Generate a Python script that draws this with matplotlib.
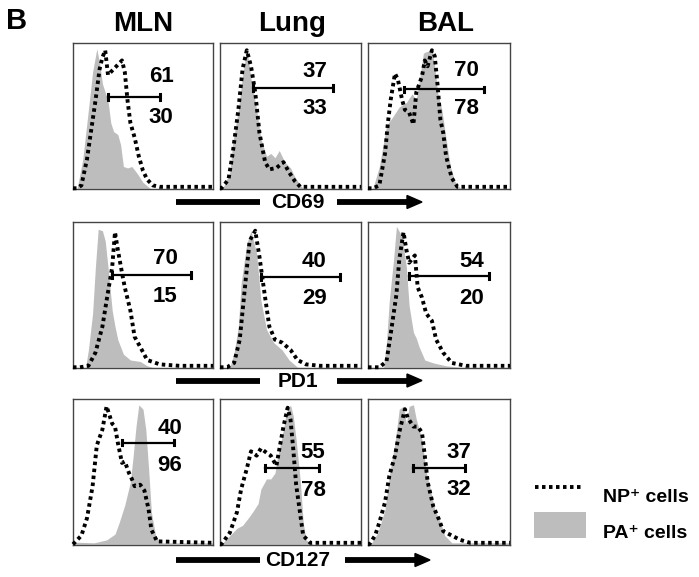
import matplotlib
matplotlib.use("Agg")
import matplotlib.pyplot as plt
from matplotlib.patches import Rectangle
from matplotlib.lines import Line2D

plt.rcParams['font.family'] = ['Liberation Sans', 'DejaVu Sans']
plt.rcParams['font.weight'] = 'bold'

W, H = 699, 577
GRAY = '#bdbdbd'

# ---------------- data (x: fraction of decade range, y: normalised count) -------------
columns = ['MLN', 'Lung', 'BAL']
markers = ['CD69', 'PD1', 'CD127']

# Row 1: CD69
mln_cd69_pa_x = [0, 0.03, 0.07, 0.11, 0.14, 0.17, 0.19, 0.21, 0.25, 0.27, 0.29, 0.32, 0.34, 0.36, 0.39, 0.42, 0.46, 0.50, 0.55, 1.0]
mln_cd69_pa_y = [0, 0, 0.20, 0.54, 0.80, 0.96, 0.86, 0.72, 0.60, 0.45, 0.39, 0.37, 0.30, 0.15, 0.14, 0.15, 0.10, 0.04, 0, 0]
mln_cd69_np_x = [0, 0.03, 0.06, 0.10, 0.13, 0.16, 0.19, 0.21, 0.23, 0.25, 0.27, 0.30, 0.33, 0.35, 0.37, 0.39, 0.41, 0.44, 0.47, 0.50, 0.53, 0.57, 0.62, 1.0]
mln_cd69_np_y = [0, 0, 0.02, 0.20, 0.40, 0.60, 0.82, 0.90, 0.95, 0.78, 0.80, 0.83, 0.86, 0.88, 0.80, 0.60, 0.45, 0.35, 0.22, 0.12, 0.06, 0.02, 0.01, 0.01]
lung_cd69_pa_x = [0, 0.02, 0.07, 0.09, 0.13, 0.16, 0.19, 0.22, 0.26, 0.29, 0.33, 0.36, 0.39, 0.42, 0.46, 0.50, 0.53, 0.57, 0.59, 1.0]
lung_cd69_pa_y = [0, 0, 0.11, 0.31, 0.54, 0.77, 0.96, 0.75, 0.54, 0.34, 0.22, 0.24, 0.21, 0.26, 0.18, 0.14, 0.08, 0.02, 0, 0]
lung_cd69_np_x = [0, 0.01, 0.06, 0.09, 0.13, 0.16, 0.19, 0.22, 0.25, 0.28, 0.32, 0.35, 0.40, 0.45, 0.49, 0.53, 0.57, 1.0]
lung_cd69_np_y = [0, 0, 0.06, 0.24, 0.54, 0.82, 0.95, 0.84, 0.66, 0.38, 0.18, 0.13, 0.14, 0.18, 0.11, 0.05, 0.01, 0.01]
bal_cd69_pa_x = [0, 0.035, 0.08, 0.13, 0.18, 0.22, 0.27, 0.31, 0.34, 0.36, 0.39, 0.41, 0.45, 0.47, 0.49, 0.52, 0.55, 0.58, 0.61, 0.65, 1.0]
bal_cd69_pa_y = [0, 0, 0.15, 0.43, 0.50, 0.56, 0.59, 0.65, 0.61, 0.73, 0.93, 0.94, 0.95, 0.84, 0.66, 0.54, 0.34, 0.15, 0.05, 0, 0]
bal_cd69_np_x = [0, 0.035, 0.08, 0.12, 0.14, 0.16, 0.19, 0.21, 0.24, 0.26, 0.29, 0.32, 0.34, 0.38, 0.40, 0.42, 0.45, 0.47, 0.49, 0.51, 0.53, 0.55, 0.59, 0.63, 1.0]
bal_cd69_np_y = [0, 0, 0.02, 0.24, 0.45, 0.61, 0.79, 0.75, 0.61, 0.54, 0.52, 0.44, 0.66, 0.77, 0.88, 0.84, 0.95, 0.91, 0.71, 0.47, 0.38, 0.22, 0.07, 0.01, 0.01]

# Row 2: PD1
mln_pd1_pa_x = [0, 0.09, 0.11, 0.14, 0.16, 0.18, 0.21, 0.23, 0.25, 0.28, 0.30, 0.32, 0.36, 0.41, 0.48, 0.53, 0.57, 1.0]
mln_pd1_pa_y = [0, 0, 0.12, 0.37, 0.69, 0.95, 0.94, 0.87, 0.69, 0.39, 0.28, 0.19, 0.09, 0.05, 0.04, 0.01, 0, 0]
mln_pd1_np_x = [0, 0.05, 0.11, 0.16, 0.21, 0.24, 0.28, 0.30, 0.32, 0.35, 0.37, 0.41, 0.44, 0.48, 0.53, 0.62, 0.76, 1.0]
mln_pd1_np_y = [0, 0, 0.01, 0.10, 0.28, 0.46, 0.69, 0.93, 0.81, 0.65, 0.55, 0.39, 0.21, 0.14, 0.05, 0.02, 0.01, 0.01]
lung_pd1_pa_x = [0, 0.07, 0.10, 0.13, 0.15, 0.19, 0.22, 0.26, 0.29, 0.33, 0.38, 0.44, 0.49, 0.55, 1.0]
lung_pd1_pa_y = [0, 0, 0.10, 0.28, 0.58, 0.85, 0.94, 0.78, 0.46, 0.26, 0.17, 0.12, 0.05, 0, 0]
lung_pd1_np_x = [0, 0.05, 0.10, 0.14, 0.18, 0.21, 0.25, 0.28, 0.32, 0.35, 0.39, 0.44, 0.50, 0.55, 0.61, 0.71, 1.0]
lung_pd1_np_y = [0, 0, 0.03, 0.19, 0.58, 0.87, 0.94, 0.76, 0.48, 0.28, 0.19, 0.17, 0.12, 0.05, 0.02, 0.01, 0.01]
bal_pd1_pa_x = [0, 0.11, 0.13, 0.15, 0.18, 0.20, 0.24, 0.27, 0.29, 0.32, 0.34, 0.36, 0.40, 0.46, 0.55, 0.65, 1.0]
bal_pd1_pa_y = [0, 0, 0.17, 0.46, 0.74, 0.97, 0.90, 0.69, 0.42, 0.24, 0.20, 0.14, 0.05, 0.03, 0.01, 0, 0]
bal_pd1_np_x = [0, 0.08, 0.13, 0.16, 0.20, 0.22, 0.25, 0.27, 0.29, 0.33, 0.35, 0.38, 0.41, 0.45, 0.48, 0.53, 0.59, 0.69, 1.0]
bal_pd1_np_y = [0, 0, 0.04, 0.23, 0.50, 0.74, 0.93, 0.81, 0.72, 0.77, 0.55, 0.48, 0.37, 0.32, 0.19, 0.10, 0.03, 0.01, 0.01]

# Row 3: CD127
mln_cd127_pa_x = [0, 0.15, 0.24, 0.30, 0.33, 0.37, 0.41, 0.43, 0.45, 0.47, 0.50, 0.52, 0.54, 0.56, 0.59, 0.62, 1.0]
mln_cd127_pa_y = [0.015, 0.01, 0.03, 0.07, 0.15, 0.27, 0.43, 0.61, 0.81, 0.96, 0.93, 0.79, 0.52, 0.22, 0.06, 0.01, 0.01]
mln_cd127_np_x = [0, 0.06, 0.10, 0.14, 0.17, 0.21, 0.24, 0.28, 0.30, 0.32, 0.35, 0.37, 0.40, 0.42, 0.44, 0.48, 0.51, 0.54, 0.56, 0.60, 1.0]
mln_cd127_np_y = [0, 0.06, 0.18, 0.40, 0.68, 0.79, 0.95, 0.83, 0.81, 0.70, 0.56, 0.57, 0.49, 0.45, 0.40, 0.41, 0.37, 0.24, 0.10, 0.02, 0.01]
lung_cd127_pa_x = [0, 0.01, 0.07, 0.12, 0.16, 0.20, 0.23, 0.27, 0.29, 0.33, 0.36, 0.39, 0.41, 0.44, 0.47, 0.50, 0.52, 0.54, 0.57, 0.59, 0.61, 0.66, 1.0]
lung_cd127_pa_y = [0, 0, 0.06, 0.11, 0.13, 0.18, 0.22, 0.28, 0.38, 0.45, 0.45, 0.49, 0.61, 0.74, 0.90, 0.96, 0.88, 0.72, 0.43, 0.15, 0.03, 0, 0]
lung_cd127_np_x = [0, 0.01, 0.07, 0.12, 0.15, 0.19, 0.22, 0.26, 0.29, 0.33, 0.36, 0.40, 0.42, 0.45, 0.48, 0.50, 0.52, 0.54, 0.57, 0.59, 0.64, 1.0]
lung_cd127_np_y = [0, 0, 0.08, 0.22, 0.38, 0.52, 0.64, 0.61, 0.66, 0.63, 0.61, 0.54, 0.65, 0.81, 0.94, 0.86, 0.65, 0.41, 0.20, 0.06, 0.01, 0.01]
bal_cd127_pa_x = [0, 0.02, 0.07, 0.12, 0.15, 0.19, 0.22, 0.25, 0.27, 0.29, 0.32, 0.34, 0.38, 0.41, 0.45, 0.47, 0.51, 0.54, 0.59, 1.0]
bal_cd127_pa_y = [0, 0, 0.08, 0.24, 0.47, 0.70, 0.93, 0.95, 0.83, 0.95, 0.96, 0.86, 0.72, 0.50, 0.33, 0.24, 0.15, 0.06, 0.01, 0.01]
bal_cd127_np_x = [0, 0.01, 0.05, 0.08, 0.12, 0.15, 0.19, 0.22, 0.26, 0.28, 0.32, 0.35, 0.38, 0.40, 0.42, 0.46, 0.50, 0.53, 0.59, 0.65, 0.72, 1.0]
bal_cd127_np_y = [0, 0, 0.06, 0.15, 0.29, 0.47, 0.61, 0.77, 0.93, 0.87, 0.81, 0.81, 0.77, 0.61, 0.43, 0.26, 0.17, 0.09, 0.06, 0.03, 0.01, 0.01]

# gates: (x start, x end, y level), labels (upper, lower)
gate_x0 = [[0.25, 0.235, 0.25], [0.28, 0.29, 0.29], [0.35, 0.32, 0.32]]
gate_x1 = [[0.62, 0.80, 0.82], [0.84, 0.85, 0.85], [0.72, 0.70, 0.685]]
gate_y = [[0.63, 0.69, 0.68], [0.635, 0.62, 0.63], [0.70, 0.525, 0.525]]
label_top = [['61', '37', '70'], ['70', '40', '54'], ['40', '55', '37']]
label_bot = [['30', '33', '78'], ['15', '29', '20'], ['96', '78', '32']]
label_x = [[0.63, 0.67, 0.69], [0.66, 0.67, 0.73], [0.69, 0.66, 0.64]]
label_top_y = [[0.77, 0.805, 0.81], [0.75, 0.73, 0.73], [0.80, 0.63, 0.63]]
label_bot_y = [[0.485, 0.55, 0.55], [0.49, 0.475, 0.475], [0.545, 0.37, 0.38]]

pa_data = [[(mln_cd69_pa_x, mln_cd69_pa_y), (lung_cd69_pa_x, lung_cd69_pa_y), (bal_cd69_pa_x, bal_cd69_pa_y)],
           [(mln_pd1_pa_x, mln_pd1_pa_y), (lung_pd1_pa_x, lung_pd1_pa_y), (bal_pd1_pa_x, bal_pd1_pa_y)],
           [(mln_cd127_pa_x, mln_cd127_pa_y), (lung_cd127_pa_x, lung_cd127_pa_y), (bal_cd127_pa_x, bal_cd127_pa_y)]]
np_data = [[(mln_cd69_np_x, mln_cd69_np_y), (lung_cd69_np_x, lung_cd69_np_y), (bal_cd69_np_x, bal_cd69_np_y)],
           [(mln_pd1_np_x, mln_pd1_np_y), (lung_pd1_np_x, lung_pd1_np_y), (bal_pd1_np_x, bal_pd1_np_y)],
           [(mln_cd127_np_x, mln_cd127_np_y), (lung_cd127_np_x, lung_cd127_np_y), (bal_cd127_np_x, bal_cd127_np_y)]]

# ---------------- layout ----------------
fig = plt.figure(figsize=(W / 100, H / 100), dpi=100)
fig.patch.set_facecolor('white')


def fx(px):
    return px / W


def fy(py):
    return 1 - py / H


col_left = [73, 220, 368]
col_w = [140, 141, 142]
row_top = [43, 222, 399]
row_h = 146

for r in range(3):
    for c in range(3):
        ax = fig.add_axes([fx(col_left[c]), fy(row_top[r] + row_h), col_w[c] / W, row_h / H])
        ax.set_xlim(0, 1)
        ax.set_ylim(-0.005, 1)
        ax.set_xticks([])
        ax.set_yticks([])
        for s in ax.spines.values():
            s.set_color('#444444')
            s.set_linewidth(1.0)
        px, py = pa_data[r][c]
        ax.fill_between(px, py, 0, color=GRAY, lw=0, zorder=1)
        nx, ny = np_data[r][c]
        ax.plot(nx, ny, color='black', lw=2.8, ls=(0, (0.9, 0.9)), zorder=3, clip_on=False)
        # gate
        ax.plot([gate_x0[r][c], gate_x1[r][c]], [gate_y[r][c]] * 2, color='black', lw=1.6, zorder=4)
        for gx in (gate_x0[r][c], gate_x1[r][c]):
            ax.plot([gx, gx], [gate_y[r][c] - 0.02, gate_y[r][c] + 0.02], color='black', lw=2.2, zorder=4)
        ax.text(label_x[r][c], label_top_y[r][c], label_top[r][c], ha='center', va='center',
                fontsize=16, fontweight='bold', zorder=5)
        ax.text(label_x[r][c], label_bot_y[r][c], label_bot[r][c], ha='center', va='center',
                fontsize=16, fontweight='bold', zorder=5)

# column titles and panel letter
title_x = [143, 292, 446]
for name, tx in zip(columns, title_x):
    fig.text(fx(tx), fy(24), name, ha='center', va='center', fontsize=20, fontweight='bold')
fig.text(fx(17), fy(21), 'B', ha='center', va='center', fontsize=21, fontweight='bold')

# marker arrows
arrow_y = [202, 380.5, 560]
right_start = [337, 337, 345]
tip_x = [422, 422, 430]
for m, ay, rs, tx in zip(markers, arrow_y, right_start, tip_x):
    fig.add_artist(Line2D([fx(176), fx(260)], [fy(ay), fy(ay)], color='black', lw=4.2,
                          solid_capstyle='butt'))
    fig.text(fx(298), fy(ay + 1), m, ha='center', va='center', fontsize=15, fontweight='bold')
    fig.add_artist(Line2D([fx(rs), fx(tx - 14)], [fy(ay), fy(ay)], color='black', lw=4.2,
                          solid_capstyle='butt'))
    fig.add_artist(plt.Polygon([[fx(tx - 15), fy(ay - 6.5)], [fx(tx), fy(ay)], [fx(tx - 15), fy(ay + 6.5)]],
                               closed=True, color='black', transform=fig.transFigure))

# legend
fig.add_artist(Line2D([fx(535), fx(581)], [fy(487), fy(487)], color='black', lw=2.8, ls=(0, (0.9, 0.9))))
fig.add_artist(Rectangle((fx(534), fy(538)), 52 / W, 26 / H, color=GRAY, lw=0, transform=fig.transFigure))
fig.text(fx(603), fy(497), 'NP\u207a cells', ha='left', va='center', fontsize=14, fontweight='bold')
fig.text(fx(603), fy(533), 'PA\u207a cells', ha='left', va='center', fontsize=14, fontweight='bold')

fig.savefig('out.png', dpi=100, facecolor='white')
